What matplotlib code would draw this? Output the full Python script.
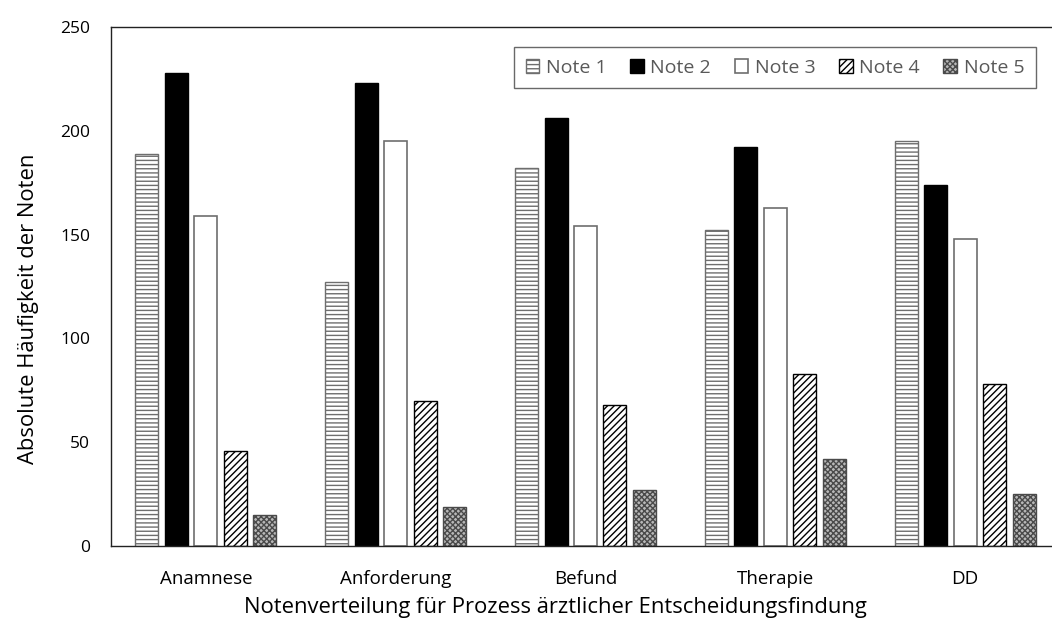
import matplotlib
matplotlib.use("Agg")
import matplotlib.pyplot as plt
import numpy as np

categories = ["Anamnese", "Anforderung", "Befund", "Therapie", "DD"]
series_names = ["Note 1", "Note 2", "Note 3", "Note 4", "Note 5"]
note1 = [189, 127, 182, 152, 195]
note2 = [228, 223, 206, 192, 174]
note3 = [159, 195, 154, 163, 148]
note4 = [46, 70, 68, 83, 78]
note5 = [15, 19, 27, 42, 25]
yticks = [0, 50, 100, 150, 200, 250]

plt.rcParams['font.family'] = ['Open Sans', 'DejaVu Sans']
plt.rcParams['hatch.linewidth'] = 1.0

W, H = 1052, 623
fig = plt.figure(figsize=(W / 100, H / 100), dpi=100)
left, right, top, bottom = 111, 1060, 27, 546
ax = fig.add_axes([left / W, 1 - bottom / H, (right - left) / W, (bottom - top) / H])

styles = [
    dict(facecolor="white", edgecolor="#6e6e6e", hatch="----", linewidth=1.0),
    dict(facecolor="black", edgecolor="black", hatch=None, linewidth=1.0),
    dict(facecolor="white", edgecolor="#6e6e6e", hatch=None, linewidth=1.2),
    dict(facecolor="white", edgecolor="black", hatch="/////", linewidth=1.0),
    dict(facecolor="#b8b8b8", edgecolor="#4a4a4a", hatch="xxxxxx", linewidth=1.0),
]

data = [note1, note2, note3, note4, note5]
x = np.arange(len(categories))
step = 29.5 / 190
bw = 23 / 190
for i, (vals, name, st) in enumerate(zip(data, series_names, styles)):
    ax.bar(x + (i - 2) * step, vals, width=bw, label=name, **st)

ax.set_xlim(-0.5, 4.5)
ax.set_ylim(0, 250)
ax.set_yticks(yticks)
ax.set_xticks(x)
ax.set_xticklabels(categories)
ax.tick_params(axis='both', length=0, colors="black")
ax.tick_params(axis='y', pad=15, labelsize=12.5)
ax.tick_params(axis='x', pad=17, labelsize=13.5)
for s in ["left", "top", "bottom"]:
    ax.spines[s].set_linewidth(1.0)
    ax.spines[s].set_color("#222222")
ax.spines["right"].set_visible(False)

fig.text(555 / W, 1 - 607 / H, "Notenverteilung für Prozess ärztlicher Entscheidungsfindung",
         ha="center", va="center", fontsize=15.8)
fig.text(29 / W, 1 - 309 / H, "Absolute Häufigkeit der Noten", ha="center", va="center",
         rotation=90, fontsize=15.8)

leg = ax.legend(ncol=5, loc="upper right", bbox_to_anchor=(1036 / W, 1 - 47 / H),
                bbox_transform=fig.transFigure, fancybox=False, edgecolor="#444444",
                handlelength=0.7, handleheight=0.7, handletextpad=0.35, columnspacing=1.2,
                fontsize=14, borderpad=0.6, borderaxespad=0)
leg.get_frame().set_linewidth(1.0)
for t in leg.get_texts():
    t.set_color("#595959")

fig.savefig("out.png", dpi=100)
